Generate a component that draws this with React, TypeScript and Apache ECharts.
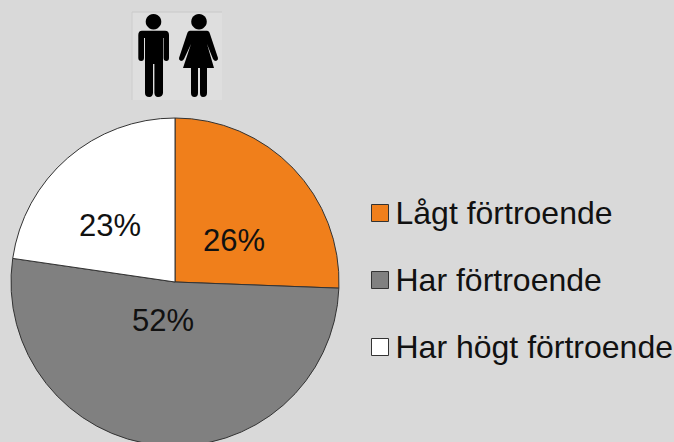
import React, { useEffect, useRef } from "react";
import * as echarts from "echarts";

const categories = ["Lågt förtroende", "Har förtroende", "Har högt förtroende"];
const values = [25.6, 51.7, 22.7];
const colors = ["#F07F1B", "#808080", "#FFFFFF"];
const labelOffsets = [
  { x: 234, y: 240 },
  { x: 163, y: 320 },
  { x: 110, y: 225 },
];

const manPath =
  "M142 30.7 H165 Q169 30.7 169 35 V58 Q169 61 166.3 61 Q163.6 61 163.6 58 V38 H163 V93 Q162.6 97 158 97 Q154.8 97 154.4 93 V64 H153 V93 Q152.6 97 149.4 97 Q145 97 145 93 V38 H144 V58 Q144 61 141.2 61 Q138.3 61 138.3 58 V35 Q138.3 30.7 142 30.7 Z";
const womanPath =
  "M190 30.7 H207 Q209 30.7 210 34 L218 58 Q218.5 60 216 61 Q214 61 213 59 L207 44 L214 68 H207 V93 Q207 97 203 97 Q200 97 200 93 V68 H198 V93 Q198 97 194.5 97 Q191 97 191 93 V68 H183 L191 44 L184 59 Q183 61 181 61 Q178.5 60 179 58 L187 34 Q188 30.7 190 30.7 Z";

echarts.graphic.registerShape("manFigure", echarts.graphic.extendPath(manPath, {}));
echarts.graphic.registerShape("womanFigure", echarts.graphic.extendPath(womanPath, {}));

const FONT = "'Liberation Sans', Arial, sans-serif";

export default function App() {
  const ref = useRef<HTMLDivElement>(null);
  useEffect(() => {
    document.body.style.margin = "0";
    const chart = echarts.init(ref.current!, undefined, { renderer: "svg" });
    chart.setOption({
      animation: false,
      backgroundColor: "#D9D9D9",
      legend: {
        orient: "vertical",
        left: 371,
        top: 197,
        padding: 0,
        itemWidth: 17,
        itemHeight: 17,
        itemGap: 35,
        icon: "rect",
        selectedMode: false,
        textStyle: { fontFamily: FONT, fontSize: 32, color: "#111", padding: [0, 0, 0, 2] },
        itemStyle: { borderColor: "#333", borderWidth: 1 },
        data: categories,
      },
      series: [
        {
          type: "pie",
          center: [175, 282],
          radius: [0, 164],
          startAngle: 90,
          clockwise: true,
          silent: true,
          itemStyle: { borderColor: "#333", borderWidth: 1 },
          label: {
            show: true,
            position: "inside",
            formatter: (p: any) => `${Math.round(p.value)}%`,
            fontFamily: FONT,
            fontSize: 31,
            color: "#111",
          },
          labelLine: { show: false },
          labelLayout: (p: any) => ({
            ...labelOffsets[p.dataIndex],
            align: "center",
            verticalAlign: "middle",
          }),
          data: categories.map((name, i) => ({
            name,
            value: values[i],
            itemStyle: { color: colors[i] },
          })),
        },
      ],
      graphic: [
        { type: "rect", shape: { x: 132, y: 12, width: 90, height: 88 }, style: { fill: "#DEDEDE" } },
        { type: "line", shape: { x1: 132, y1: 12, x2: 222, y2: 12 }, style: { stroke: "#C8C8C8", lineWidth: 1 } },
        { type: "line", shape: { x1: 132, y1: 12, x2: 132, y2: 100 }, style: { stroke: "#CCCCCC", lineWidth: 1 } },
        { type: "circle", shape: { cx: 153.5, cy: 21.7, r: 7.8 }, style: { fill: "#000" } },
        { type: "manFigure", x: 0, y: 0, style: { fill: "#000" } },
        { type: "circle", shape: { cx: 199, cy: 21.7, r: 7.8 }, style: { fill: "#000" } },
        { type: "womanFigure", x: 0, y: 0, style: { fill: "#000" } },
      ],
    });
    return () => chart.dispose();
  }, []);
  return <div ref={ref} style={{ width: 674, height: 442 }} />;
}
